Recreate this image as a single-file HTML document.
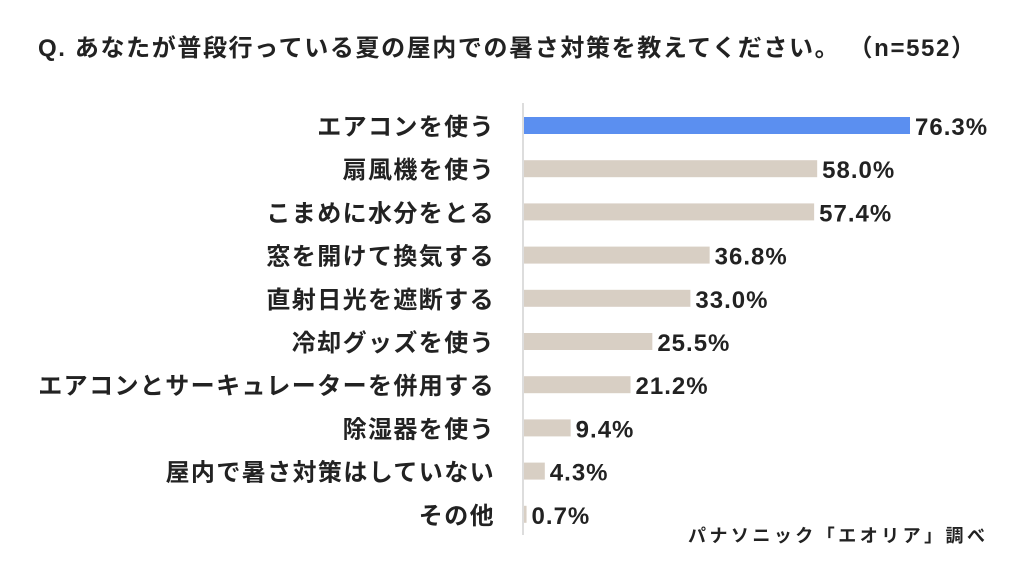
<!DOCTYPE html>
<html><head><meta charset="utf-8"><style>
body{margin:0;background:#fff;width:1024px;height:576px;overflow:hidden;font-family:"Liberation Sans","Noto Sans CJK JP",sans-serif;}
</style></head><body>
<svg width="1024" height="576" id="chart" font-family="'Liberation Sans','Noto Sans CJK JP',sans-serif">
<text x="38" y="56" font-size="24" font-weight="bold" fill="#222" textLength="937" lengthAdjust="spacing">Q. あなたが普段行っている夏の屋内での暑さ対策を教えてください。 （n=552）</text>
<line x1="523" y1="103" x2="523" y2="535" stroke="#bbb" stroke-width="1"/>
<text x="688" y="542" font-size="18" font-weight="bold" fill="#222" textLength="297" lengthAdjust="spacing">パナソニック「エオリア」調べ</text>
<g id="bars"></g>
</svg>
<script>
const categories=["エアコンを使う","扇風機を使う","こまめに水分をとる","窓を開けて換気する","直射日光を遮断する","冷却グッズを使う","エアコンとサーキュレーターを併用する","除湿器を使う","屋内で暑さ対策はしていない","その他"];
const values=[76.3,58.0,57.4,36.8,33.0,25.5,21.2,9.4,4.3,0.7];
const labels=["76.3%","58.0%","57.4%","36.8%","33.0%","25.5%","21.2%","9.4%","4.3%","0.7%"];
const x0=523, pxPer=(910-523)/76.3;
const xs=v=>x0+v*pxPer;
const ys=i=>117+i*43.2;
const g=document.getElementById('bars');
const NS="http://www.w3.org/2000/svg";
categories.forEach((c,i)=>{
  const r=document.createElementNS(NS,'rect');
  r.setAttribute('x',x0+1);r.setAttribute('y',ys(i));
  r.setAttribute('width',Math.max(xs(values[i])-x0-1,2));r.setAttribute('height',17);
  r.setAttribute('fill',i===0?'#5b8ff0':'#d8cfc4');
  
  
  g.appendChild(r);
  const t=document.createElementNS(NS,'text');
  t.setAttribute('x',495);t.setAttribute('y',ys(i)+18);
  t.setAttribute('text-anchor','end');t.setAttribute('font-size','24');t.setAttribute('font-weight','bold');t.setAttribute('fill','#222');
  t.setAttribute('letter-spacing','1.4');
  t.textContent=c;
  
  
  g.appendChild(t);
  const v=document.createElementNS(NS,'text');
  v.setAttribute('x',Math.max(xs(values[i]),x0+2)+5);v.setAttribute('y',ys(i)+18);
  v.setAttribute('font-size','24');v.setAttribute('font-weight','bold');v.setAttribute('fill','#222');
  v.setAttribute('letter-spacing','1');
  v.textContent=labels[i];
  
  
  g.appendChild(v);
});
</script>
</body></html>
